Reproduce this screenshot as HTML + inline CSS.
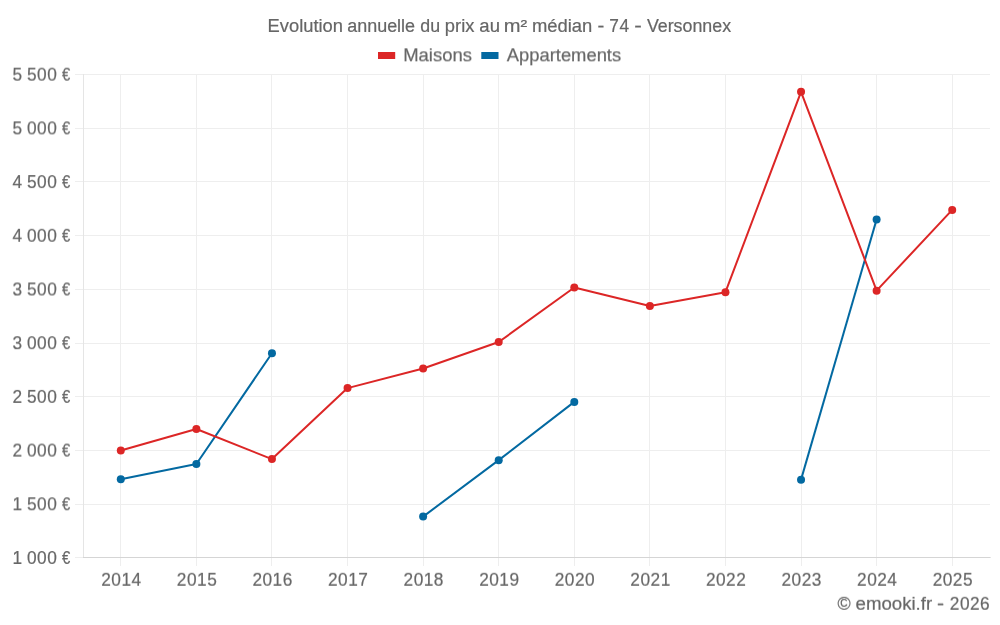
<!DOCTYPE html>
<html lang="fr"><head><meta charset="utf-8"><title>Evolution annuelle du prix au m² médian - 74 - Versonnex</title>
<style>
html,body{margin:0;padding:0;background:#fff;}
body{width:1000px;height:625px;overflow:hidden;}
svg{display:block;font-family:"Liberation Sans", sans-serif;}
text{fill:#666666;font-size:18px;stroke:#666666;stroke-width:0.2px;}
</style></head><body>
<svg width="1000" height="625" viewBox="0 0 1000 625">
<rect width="1000" height="625" fill="#fff"/>
<defs><filter id="d10" x="-5%" y="-30%" width="110%" height="160%" color-interpolation-filters="sRGB"><feConvolveMatrix order="1 2" kernelMatrix="0.90 0.10" targetX="0" targetY="1" edgeMode="none" preserveAlpha="false"/></filter><filter id="d20" x="-5%" y="-30%" width="110%" height="160%" color-interpolation-filters="sRGB"><feConvolveMatrix order="1 2" kernelMatrix="0.80 0.20" targetX="0" targetY="1" edgeMode="none" preserveAlpha="false"/></filter><filter id="d30" x="-5%" y="-30%" width="110%" height="160%" color-interpolation-filters="sRGB"><feConvolveMatrix order="1 2" kernelMatrix="0.70 0.30" targetX="0" targetY="1" edgeMode="none" preserveAlpha="false"/></filter><filter id="d35" x="-5%" y="-30%" width="110%" height="160%" color-interpolation-filters="sRGB"><feConvolveMatrix order="1 2" kernelMatrix="0.65 0.35" targetX="0" targetY="1" edgeMode="none" preserveAlpha="false"/></filter><filter id="d40" x="-5%" y="-30%" width="110%" height="160%" color-interpolation-filters="sRGB"><feConvolveMatrix order="1 2" kernelMatrix="0.60 0.40" targetX="0" targetY="1" edgeMode="none" preserveAlpha="false"/></filter><filter id="u10" x="-5%" y="-30%" width="110%" height="160%" color-interpolation-filters="sRGB"><feConvolveMatrix order="1 2" kernelMatrix="0.10 0.90" targetX="0" targetY="0" edgeMode="none" preserveAlpha="false"/></filter><filter id="u20" x="-5%" y="-30%" width="110%" height="160%" color-interpolation-filters="sRGB"><feConvolveMatrix order="1 2" kernelMatrix="0.20 0.80" targetX="0" targetY="0" edgeMode="none" preserveAlpha="false"/></filter><filter id="u30" x="-5%" y="-30%" width="110%" height="160%" color-interpolation-filters="sRGB"><feConvolveMatrix order="1 2" kernelMatrix="0.30 0.70" targetX="0" targetY="0" edgeMode="none" preserveAlpha="false"/></filter><filter id="u40" x="-5%" y="-30%" width="110%" height="160%" color-interpolation-filters="sRGB"><feConvolveMatrix order="1 2" kernelMatrix="0.40 0.60" targetX="0" targetY="0" edgeMode="none" preserveAlpha="false"/></filter><filter id="u50" x="-5%" y="-30%" width="110%" height="160%" color-interpolation-filters="sRGB"><feConvolveMatrix order="1 2" kernelMatrix="0.50 0.50" targetX="0" targetY="0" edgeMode="none" preserveAlpha="false"/></filter></defs>
<g fill="none" stroke-width="1" shape-rendering="crispEdges">
<path stroke="rgba(0,0,0,0.065)" d="M75.0 74.5H83.0M84.0 74.5H990M75.0 128.5H83.0M84.0 128.5H990M75.0 181.5H83.0M84.0 181.5H990M75.0 235.5H83.0M84.0 235.5H990M75.0 289.5H83.0M84.0 289.5H990M75.0 343.5H83.0M84.0 343.5H990M75.0 396.5H83.0M84.0 396.5H990M75.0 450.5H83.0M84.0 450.5H990M75.0 504.5H83.0M84.0 504.5H990M75.0 557.5H990M120.5 74V566M196.5 74V566M271.5 74V566M347.5 74V566M423.5 74V566M498.5 74V566M574.5 74V566M649.5 74V566M725.5 74V566M801.5 74V566M876.5 74V566M952.5 74V566"/>
<path stroke="rgba(0,0,0,0.1)" d="M83.5 74V558M84.0 557.5H991"/>
</g>
<text transform="scale(0.96,1)" y="81" filter="url(#u30)"><tspan x="12.90 23.17 28.08 38.61 49.14">5 500</tspan> <tspan x="64.58" textLength="8.56" lengthAdjust="spacingAndGlyphs">€</tspan></text>
<text transform="scale(0.96,1)" y="134" filter="url(#d40)"><tspan x="12.90 23.17 28.08 38.61 49.14">5 000</tspan> <tspan x="64.58" textLength="8.56" lengthAdjust="spacingAndGlyphs">€</tspan></text>
<text transform="scale(0.96,1)" y="188" filter="url(#d10)"><tspan x="12.90 23.17 28.08 38.61 49.14">4 500</tspan> <tspan x="64.58" textLength="8.56" lengthAdjust="spacingAndGlyphs">€</tspan></text>
<text transform="scale(0.96,1)" y="242" filter="url(#u20)"><tspan x="12.90 23.17 28.08 38.61 49.14">4 000</tspan> <tspan x="64.58" textLength="8.56" lengthAdjust="spacingAndGlyphs">€</tspan></text>
<text transform="scale(0.96,1)" y="296" filter="url(#u50)"><tspan x="12.90 23.17 28.08 38.61 49.14">3 500</tspan> <tspan x="64.58" textLength="8.56" lengthAdjust="spacingAndGlyphs">€</tspan></text>
<text transform="scale(0.96,1)" y="349" filter="url(#d20)"><tspan x="12.90 23.17 28.08 38.61 49.14">3 000</tspan> <tspan x="64.58" textLength="8.56" lengthAdjust="spacingAndGlyphs">€</tspan></text>
<text transform="scale(0.96,1)" y="403" filter="url(#u10)"><tspan x="12.90 23.17 28.08 38.61 49.14">2 500</tspan> <tspan x="64.58" textLength="8.56" lengthAdjust="spacingAndGlyphs">€</tspan></text>
<text transform="scale(0.96,1)" y="457" filter="url(#u40)"><tspan x="12.90 23.17 28.08 38.61 49.14">2 000</tspan> <tspan x="64.58" textLength="8.56" lengthAdjust="spacingAndGlyphs">€</tspan></text>
<text transform="scale(0.96,1)" y="510" filter="url(#d30)"><tspan x="12.90 23.17 28.08 38.61 49.14">1 500</tspan> <tspan x="64.58" textLength="8.56" lengthAdjust="spacingAndGlyphs">€</tspan></text>
<text transform="scale(0.96,1)" y="564"><tspan x="12.90 23.17 28.08 38.61 49.14">1 000</tspan> <tspan x="64.58" textLength="8.56" lengthAdjust="spacingAndGlyphs">€</tspan></text>
<text transform="scale(0.96,1)" y="586" filter="url(#u20)"><tspan x="105.44 115.97 126.50 137.03">2014</tspan></text>
<text transform="scale(0.96,1)" y="586" filter="url(#u20)"><tspan x="184.17 194.70 205.23 215.77">2015</tspan></text>
<text transform="scale(0.96,1)" y="586" filter="url(#u20)"><tspan x="262.90 273.44 283.97 294.50">2016</tspan></text>
<text transform="scale(0.96,1)" y="586" filter="url(#u20)"><tspan x="341.64 352.17 362.70 373.23">2017</tspan></text>
<text transform="scale(0.96,1)" y="586" filter="url(#u20)"><tspan x="420.37 430.90 441.43 451.96">2018</tspan></text>
<text transform="scale(0.96,1)" y="586" filter="url(#u20)"><tspan x="499.10 509.63 520.16 530.70">2019</tspan></text>
<text transform="scale(0.96,1)" y="586" filter="url(#u20)"><tspan x="577.83 588.37 598.90 609.43">2020</tspan></text>
<text transform="scale(0.96,1)" y="586" filter="url(#u20)"><tspan x="656.57 667.10 677.63 688.16">2021</tspan></text>
<text transform="scale(0.96,1)" y="586" filter="url(#u20)"><tspan x="735.30 745.83 756.36 766.89">2022</tspan></text>
<text transform="scale(0.96,1)" y="586" filter="url(#u20)"><tspan x="814.03 824.56 835.10 845.63">2023</tspan></text>
<text transform="scale(0.96,1)" y="586" filter="url(#u20)"><tspan x="892.77 903.30 913.83 924.36">2024</tspan></text>
<text transform="scale(0.96,1)" y="586" filter="url(#u20)"><tspan x="971.50 982.03 992.56 1003.09">2025</tspan></text>
<text transform="scale(0.96,1)" y="32"><tspan x="278.75" textLength="78.52" lengthAdjust="spacingAndGlyphs">Evolution</tspan> <tspan x="361.75" textLength="70.63" lengthAdjust="spacingAndGlyphs">annuelle</tspan> <tspan x="437.90" textLength="20.58" lengthAdjust="spacingAndGlyphs">du</tspan> <tspan x="463.42" textLength="30.76" lengthAdjust="spacingAndGlyphs">prix</tspan> <tspan x="499.33" textLength="21.44" lengthAdjust="spacingAndGlyphs">au</tspan> <tspan x="524.73" textLength="24.41" lengthAdjust="spacingAndGlyphs">m²</tspan> <tspan x="554.11" textLength="62.89" lengthAdjust="spacingAndGlyphs">médian</tspan> <tspan x="622.45" textLength="7.08" lengthAdjust="spacingAndGlyphs">-</tspan> <tspan x="634.68 645.21">74</tspan> <tspan x="660.74" textLength="7.85" lengthAdjust="spacingAndGlyphs">-</tspan> <tspan x="673.85" textLength="87.67" lengthAdjust="spacingAndGlyphs">Versonnex</tspan></text>
<rect x="378" y="52" width="17.2" height="7" fill="#dc2626"/>
<text transform="scale(0.96,1)" y="61" filter="url(#d35)"><tspan x="419.99" textLength="71.62" lengthAdjust="spacingAndGlyphs">Maisons</tspan></text>
<rect x="481.3" y="52" width="17.2" height="7" fill="#0369a1"/>
<text transform="scale(0.96,1)" y="61" filter="url(#d35)"><tspan x="527.84" textLength="119.22" lengthAdjust="spacingAndGlyphs">Appartements</tspan></text>
<text transform="scale(0.96,1)" y="610" filter="url(#u20)"><tspan x="872.47" textLength="13.71" lengthAdjust="spacingAndGlyphs">©</tspan> <tspan x="891.20" textLength="79.80" lengthAdjust="spacingAndGlyphs">emooki.fr</tspan> <tspan x="975.95" textLength="7.36" lengthAdjust="spacingAndGlyphs">-</tspan> <tspan x="989.37 999.90 1010.43 1020.96">2026</tspan></text>
<polyline points="120.79,479.20 196.38,464.00 271.96,353.25" fill="none" stroke="#0369a1" stroke-width="2" stroke-linejoin="round" stroke-linecap="butt"/>
<polyline points="423.12,516.60 498.71,460.15 574.29,401.90" fill="none" stroke="#0369a1" stroke-width="2" stroke-linejoin="round" stroke-linecap="butt"/>
<polyline points="801.04,479.65 876.62,219.40" fill="none" stroke="#0369a1" stroke-width="2" stroke-linejoin="round" stroke-linecap="butt"/>
<circle cx="120.79" cy="479.20" r="4" fill="#0369a1"/>
<circle cx="196.38" cy="464.00" r="4" fill="#0369a1"/>
<circle cx="271.96" cy="353.25" r="4" fill="#0369a1"/>
<circle cx="423.12" cy="516.60" r="4" fill="#0369a1"/>
<circle cx="498.71" cy="460.15" r="4" fill="#0369a1"/>
<circle cx="574.29" cy="401.90" r="4" fill="#0369a1"/>
<circle cx="801.04" cy="479.65" r="4" fill="#0369a1"/>
<circle cx="876.62" cy="219.40" r="4" fill="#0369a1"/>
<polyline points="120.79,450.45 196.38,429.05 271.96,459.10 347.54,388.10 423.12,368.50 498.71,342.05 574.29,287.50 649.88,306.00 725.46,292.20 801.04,91.80 876.62,290.65 952.21,209.90" fill="none" stroke="#dc2626" stroke-width="2" stroke-linejoin="round" stroke-linecap="butt"/>
<circle cx="120.79" cy="450.45" r="4" fill="#dc2626"/>
<circle cx="196.38" cy="429.05" r="4" fill="#dc2626"/>
<circle cx="271.96" cy="459.10" r="4" fill="#dc2626"/>
<circle cx="347.54" cy="388.10" r="4" fill="#dc2626"/>
<circle cx="423.12" cy="368.50" r="4" fill="#dc2626"/>
<circle cx="498.71" cy="342.05" r="4" fill="#dc2626"/>
<circle cx="574.29" cy="287.50" r="4" fill="#dc2626"/>
<circle cx="649.88" cy="306.00" r="4" fill="#dc2626"/>
<circle cx="725.46" cy="292.20" r="4" fill="#dc2626"/>
<circle cx="801.04" cy="91.80" r="4" fill="#dc2626"/>
<circle cx="876.62" cy="290.65" r="4" fill="#dc2626"/>
<circle cx="952.21" cy="209.90" r="4" fill="#dc2626"/>
</svg></body></html>
